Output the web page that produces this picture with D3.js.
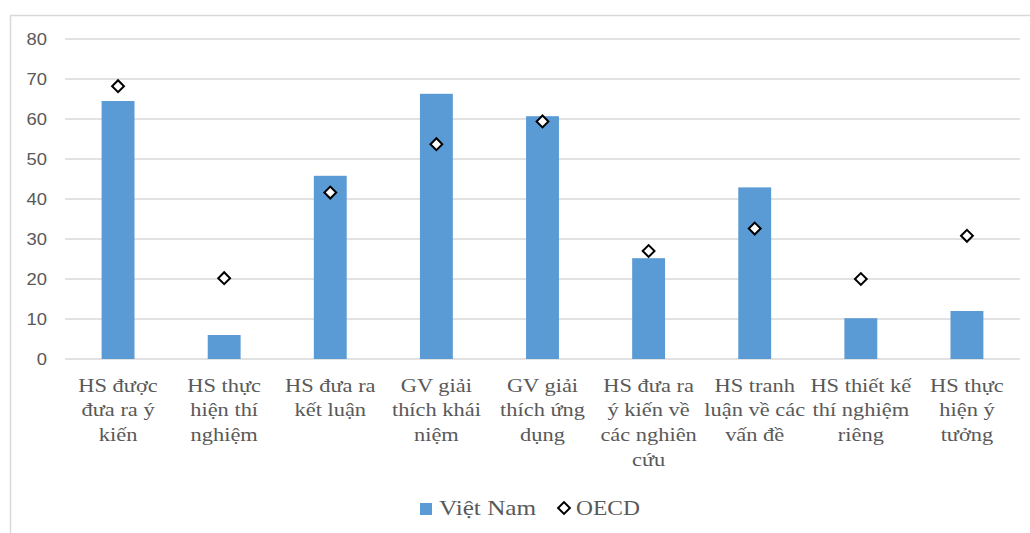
<!DOCTYPE html>
<html>
<head>
<meta charset="utf-8">
<script src="https://cdn.jsdelivr.net/npm/d3@7"></script>
<style>
  html, body { margin: 0; padding: 0; background: #fff; }
  svg { display: block; }
</style>
</head>
<body>
<svg id="chart" width="1030" height="533"></svg>
<script>
// Activity categories (line breaks mark how each label wraps)
const categories = [
  "HS được\nđưa ra ý\nkiến",
  "HS thực\nhiện thí\nnghiệm",
  "HS đưa ra\nkết luận",
  "GV giải\nthích khái\nniệm",
  "GV giải\nthích ứng\ndụng",
  "HS đưa ra\ný kiến về\ncác nghiên\ncứu",
  "HS tranh\nluận về các\nvấn đề",
  "HS thiết kế\nthí nghiệm\nriêng",
  "HS thực\nhiện ý\ntưởng"
];
const vietNam = [64.5, 6, 45.8, 66.3, 60.7, 25.2, 42.9, 10.2, 12];
const oecd    = [68.2, 20.2, 41.6, 53.7, 59.4, 27, 32.6, 20, 30.8];
const yTicks  = [0, 10, 20, 30, 40, 50, 60, 70, 80];
const seriesNames = ["Việt Nam", "OECD"];

const svg = d3.select("#chart");
const plot = { left: 65, right: 1020, top: 39, bottom: 359 };
const textGray = "#595959";
const barBlue = "#5B9BD5";
const serifFont = '"Liberation Serif"';
const sansFont = '"Liberation Sans"';

// outer chart frame
svg.append("rect")
  .attr("x", 10.5).attr("y", 15.5)
  .attr("width", 1040).attr("height", 600)
  .attr("fill", "none").attr("stroke", "#d9d9d9").attr("stroke-width", 1.5);

const x = d3.scaleBand()
  .domain(categories)
  .range([plot.left, plot.right])
  .paddingInner(0.69)
  .paddingOuter(0.345);

const y = d3.scaleLinear().domain([0, 80]).range([plot.bottom, plot.top]);

// horizontal gridlines
svg.append("g")
  .selectAll("line")
  .data(yTicks)
  .join("line")
  .attr("x1", plot.left).attr("x2", plot.right)
  .attr("y1", d => y(d)).attr("y2", d => y(d))
  .attr("stroke", "#d9d9d9").attr("stroke-width", 1.6);

// y-axis tick labels
const yAxis = d3.axisLeft(y).tickValues(yTicks).tickSize(0).tickPadding(0);
const yg = svg.append("g").attr("transform", "translate(47,0)").call(yAxis);
yg.select(".domain").remove();
yg.attr("font-family", null).attr("font-size", null);
yg.selectAll(".tick").attr("transform", "translate(0,0)");
yg.selectAll("text")
  .attr("x", 0)
  .attr("y", 0)
  .attr("dy", "0.35em")
  .attr("fill", textGray)
  .style("font-family", sansFont)
  .style("font-size", "16px")
  .attr("transform", d => `translate(0,${y(d)}) scale(1.15,1)`);

// Việt Nam bars
svg.append("g")
  .selectAll("rect")
  .data(vietNam)
  .join("rect")
  .attr("x", (d, i) => x(categories[i]))
  .attr("y", d => y(d))
  .attr("width", x.bandwidth())
  .attr("height", d => y(0) - y(d))
  .attr("fill", barBlue);

// OECD diamond markers
const diamond = d3.symbol().type(d3.symbolSquare).size(70);
svg.append("g")
  .selectAll("path")
  .data(oecd)
  .join("path")
  .attr("d", diamond)
  .attr("transform", (d, i) => `translate(${x(categories[i]) + x.bandwidth() / 2},${y(d)}) rotate(45)`)
  .attr("fill", "#fff").attr("stroke", "#000").attr("stroke-width", 2);

// category labels
const lg = svg.append("g");
categories.forEach(c => {
  const cx = x(c) + x.bandwidth() / 2;
  const t = lg.append("text")
    .attr("transform", `translate(${cx},391.5) scale(1.18,1)`)
    .attr("text-anchor", "middle")
    .style("font-family", serifFont)
    .style("font-size", "19px")
    .attr("fill", textGray);
  c.split("\n").forEach((line, j) => {
    t.append("tspan").attr("x", 0).attr("y", j * 25).text(line);
  });
});

// legend
const legend = svg.append("g");
legend.append("rect")
  .attr("x", 420).attr("y", 503).attr("width", 12).attr("height", 12)
  .attr("fill", barBlue);
legend.append("text")
  .attr("transform", `translate(439,515) scale(1.2,1)`)
  .style("font-family", serifFont).style("font-size", "21px")
  .attr("fill", textGray)
  .text(seriesNames[0]);
legend.append("path")
  .attr("d", diamond)
  .attr("transform", "translate(564,508) rotate(45)")
  .attr("fill", "#fff").attr("stroke", "#000").attr("stroke-width", 2);
legend.append("text")
  .attr("transform", `translate(576,515) scale(1.12,1)`)
  .style("font-family", serifFont).style("font-size", "21px")
  .attr("fill", textGray)
  .text(seriesNames[1]);
</script>
</body>
</html>
